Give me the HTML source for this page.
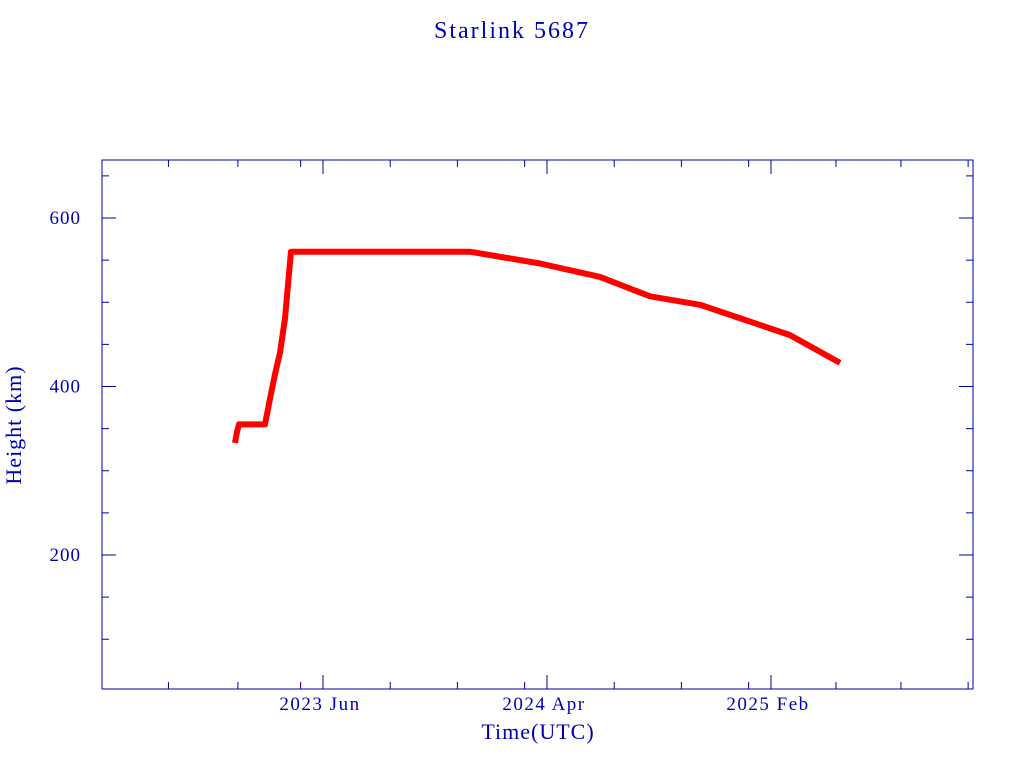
<!DOCTYPE html>
<html><head><meta charset="utf-8"><style>
body{margin:0;background:#fff;}
svg text{font-family:"Liberation Serif",serif;fill:#0000b0;}
</style></head><body>
<svg id="chart" width="1024" height="768">
<text x="512" y="38" font-size="24" letter-spacing="2" text-anchor="middle">Starlink 5687</text>
<rect x="102" y="160" width="871" height="529" fill="none" stroke="#0000a0" stroke-width="1"/>
<text x="538" y="739" font-size="22" letter-spacing="1" text-anchor="middle">Time(UTC)</text>
<text x="21" y="425" font-size="22" letter-spacing="1" text-anchor="middle" transform="rotate(-90 21 425)">Height (km)</text>
<g id="axes"></g>
<g id="series"></g>
</svg>
<script>
const months=[-3.93,-3.84,-3.75,-2.59,-2.37,-2.14,-1.92,-1.7,-1.43,6.56,9.69,12.37,14.6,16.83,18.62,20.85,23.08];
const heights=[333,346,355,355,385,415,440,480,560,560,546,530,507,497,481,461,428];
const majorMonths=[0,10,20];
const majorLabels=["2023 Jun","2024 Apr","2025 Feb"];
const minorMonths=[-6.9,-3.8,-1,3,6,9,13,16,19,22.9,25.8,28.8];
const yTicks=[200,400,600];
const yMinor=[100,150,250,300,350,450,500,550,650];
const X0=102,X1=973,Y0=160,Y1=689;
const x=m=>323+22.4*m;
const y=v=>218+(600-v)*0.8425;
const ns="http://www.w3.org/2000/svg";
const ax=document.getElementById('axes'),se=document.getElementById('series');
function line(g,x1,y1,x2,y2,name){const l=document.createElementNS(ns,'line');l.setAttribute('x1',x1);l.setAttribute('y1',y1);l.setAttribute('x2',x2);l.setAttribute('y2',y2);l.setAttribute('stroke','#0000a0');


g.appendChild(l);}
majorMonths.forEach((m,i)=>{const px=x(m);line(ax,px,Y1,px,Y1-14,'x-major-tick');line(ax,px,Y0,px,Y0+14,'x-major-tick');
const t=document.createElementNS(ns,'text');t.setAttribute('x',px-3);t.setAttribute('y',710);t.setAttribute('font-size','19');t.setAttribute('letter-spacing','1.5');t.setAttribute('text-anchor','middle');t.textContent=majorLabels[i];


ax.appendChild(t);});
minorMonths.forEach(m=>{const px=x(m);line(ax,px,Y1,px,Y1-7,'x-minor-tick');line(ax,px,Y0,px,Y0+7,'x-minor-tick');});
yTicks.forEach(v=>{const py=y(v);line(ax,X0,py,X0+14,py,'y-major-tick');line(ax,X1,py,X1-14,py,'y-major-tick');
const t=document.createElementNS(ns,'text');t.setAttribute('x',81);t.setAttribute('y',py+6);t.setAttribute('font-size','19');t.setAttribute('letter-spacing','1');t.setAttribute('text-anchor','end');t.textContent=v;


ax.appendChild(t);});
yMinor.forEach(v=>{const py=y(v);line(ax,X0,py,X0+7,py,'y-minor-tick');line(ax,X1,py,X1-7,py,'y-minor-tick');});
const p=document.createElementNS(ns,'polyline');
p.setAttribute('points',months.map((m,i)=>x(m)+','+y(heights[i])).join(' '));
p.setAttribute('fill','none');p.setAttribute('stroke','#ff0000');p.setAttribute('stroke-width','6');p.setAttribute('stroke-linejoin','round');


se.appendChild(p);
</script>
</body></html>
